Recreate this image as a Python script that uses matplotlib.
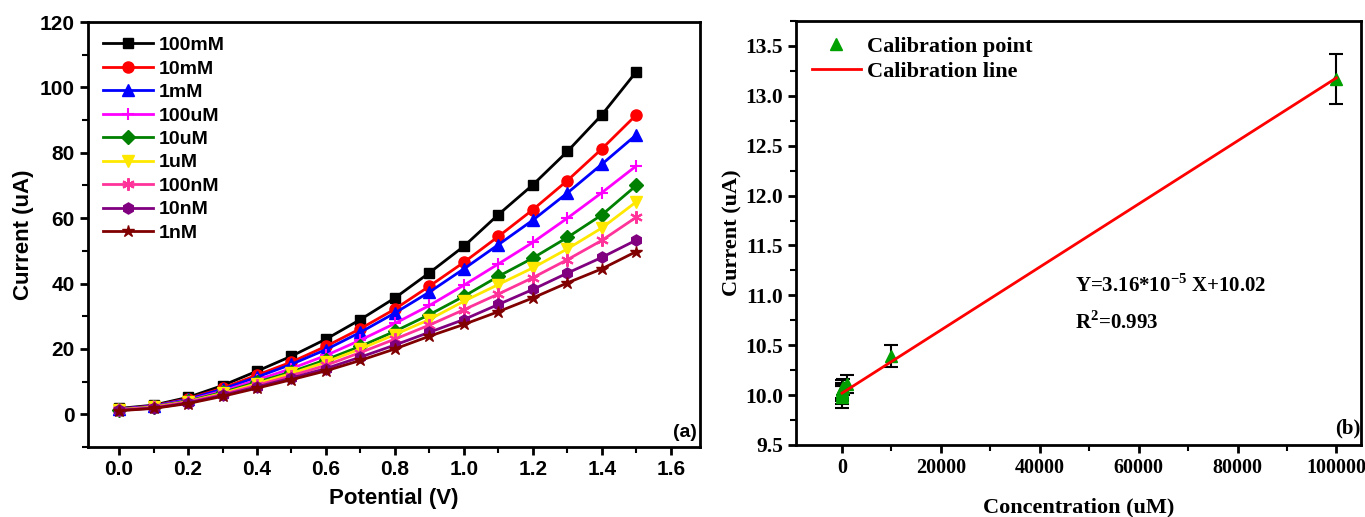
import numpy as np
import matplotlib.pyplot as plt
from matplotlib.ticker import MultipleLocator

plt.rcParams["mathtext.fontset"] = "custom"
plt.rcParams["mathtext.rm"] = "Liberation Serif"
plt.rcParams["mathtext.bf"] = "Liberation Serif:bold"

# panel (a): I-V curves for each concentration
potential = [0.0, 0.1, 0.2, 0.3, 0.4, 0.5, 0.6, 0.7, 0.8, 0.9, 1.0, 1.1, 1.2, 1.3, 1.4, 1.5]
labels = ["100mM", "10mM", "1mM", "100uM", "10uM", "1uM", "100nM", "10nM", "1nM"]
i_100mM = [1.8, 2.8, 5.2, 8.8, 13.2, 17.8, 23.0, 29.0, 35.6, 43.3, 51.4, 61.1, 70.2, 80.4, 91.6, 104.8]
i_10mM = [1.6, 2.6, 4.8, 8.0, 12.0, 16.0, 20.8, 26.2, 32.2, 39.2, 46.5, 54.4, 62.6, 71.5, 81.2, 91.6]
i_1mM = [1.6, 2.5, 4.6, 7.7, 11.4, 15.3, 19.8, 25.1, 31.0, 37.4, 44.5, 51.9, 59.4, 67.7, 76.5, 85.5]
i_100uM = [1.5, 2.4, 4.3, 7.1, 10.5, 14.0, 18.0, 22.7, 27.8, 33.3, 39.5, 46.0, 52.6, 60.0, 67.8, 76.0]
i_10uM = [1.4, 2.3, 4.1, 6.7, 9.8, 13.0, 16.7, 20.8, 25.4, 30.5, 36.1, 42.2, 47.8, 54.1, 61.0, 70.0]
i_1uM = [1.4, 2.2, 3.9, 6.4, 9.4, 12.5, 16.0, 20.0, 24.4, 29.0, 34.6, 39.7, 44.8, 50.6, 57.0, 65.0]
i_100nM = [1.3, 2.1, 3.8, 6.1, 8.9, 11.8, 15.0, 18.9, 23.0, 27.3, 32.0, 36.8, 41.8, 47.3, 53.2, 60.3]
i_10nM = [1.2, 1.9, 3.5, 5.8, 8.4, 11.1, 14.0, 17.5, 21.2, 25.1, 29.0, 33.6, 38.2, 43.2, 48.0, 53.3]
i_1nM = [1.1, 1.8, 3.3, 5.5, 8.0, 10.6, 13.3, 16.5, 20.0, 23.9, 27.5, 31.4, 35.6, 40.2, 44.5, 49.8]
curves = [i_100mM, i_10mM, i_1mM, i_100uM, i_10uM, i_1uM, i_100nM, i_10nM, i_1nM]

colors = ["black", "#FF0000", "#0000FF", "#FF00FF", "#008000", "#FFE800", "#FF3399", "#800080", "#800000"]
markers = ["s", "o", "^", "+", "D", "v", (6, 2, 0), "h", "*"]
msizes = [7, 8, 8, 8, 7, 8, 9, 8, 9]

# panel (b): calibration
conc = [0.001, 0.01, 0.1, 1, 10, 100, 1000, 10000, 100000]
cal_current = [9.98, 10.00, 10.02, 10.04, 10.06, 10.08, 10.11, 10.39, 13.17]
cal_err = [0.11, 0.09, 0.08, 0.08, 0.09, 0.08, 0.09, 0.11, 0.25]
slope = 3.16e-5
intercept = 10.02

sans = "Liberation Sans"
serif = "Liberation Serif"

fig = plt.figure(figsize=(13.65, 5.17), dpi=100)
ax1 = fig.add_axes([0.0645, 0.1354, 0.4484, 0.822])
ax2 = fig.add_axes([0.5832, 0.1393, 0.4140, 0.8201])

# ---- left
for y, c, m, ms, lab in zip(curves, colors, markers, msizes, labels):
    ax1.plot(potential, y, color=c, marker=m, markersize=ms, lw=2,
             markeredgewidth=1.5 if m in ("+", (6, 2, 0)) else 1, label=lab)
ax1.xaxis.set_minor_locator(MultipleLocator(0.1))
ax1.yaxis.set_major_locator(MultipleLocator(20))
ax1.yaxis.set_minor_locator(MultipleLocator(10))
ax1.set_xticks(np.arange(0, 1.61, 0.2))
ax1.set_xticklabels(["%.1f" % v for v in np.arange(0, 1.61, 0.2)])
ax1.set_xlim(-0.09, 1.685)
ax1.set_ylim(-10, 120)
ax1.set_xlabel("Potential (V)", family=sans, weight="bold", fontsize=16, labelpad=6)
ax1.set_ylabel("Current (uA)", family=sans, weight="bold", fontsize=16, labelpad=4)
for lab in ax1.get_xticklabels() + ax1.get_yticklabels():
    lab.set_family(sans)
    lab.set_weight("bold")
    lab.set_fontsize(15)
ax1.text(0.995, 0.015, "(a)", transform=ax1.transAxes, ha="right", va="bottom",
         family=sans, weight="bold", fontsize=14)
ax1.legend(loc="upper left", frameon=False, prop={"family": sans, "weight": "bold", "size": 14},
           handlelength=2.6, labelspacing=0.3, handletextpad=0.3, borderaxespad=0.35)

# ---- right
ax2.errorbar(conc, cal_current, yerr=cal_err, fmt="none", ecolor="black", elinewidth=1.5,
             capsize=5, capthick=1.5, zorder=2)
ax2.plot(conc, cal_current, ls="none", marker="^", color="#00A000", markersize=8,
         label="Calibration point", zorder=3)
line_x = np.array([0, conc[-1]])
ax2.plot(line_x, slope * line_x + intercept, color="#FF0000", lw=2, label="Calibration line", zorder=4)
ax2.set_xlim(-9300, 105000)
ax2.set_ylim(9.5, 13.75)
ax2.xaxis.set_major_locator(MultipleLocator(20000))
ax2.xaxis.set_minor_locator(MultipleLocator(10000))
ax2.yaxis.set_major_locator(MultipleLocator(0.5))
ax2.yaxis.set_minor_locator(MultipleLocator(0.25))
ax2.set_xlabel("Concentration (uM)", family=serif, weight="bold", fontsize=16, labelpad=14)
ax2.set_ylabel("Current (uA)", family=serif, weight="bold", fontsize=16, labelpad=2)
for lab in ax2.get_yticklabels():
    lab.set_family(serif)
    lab.set_weight("bold")
    lab.set_fontsize(15.5)
for lab in ax2.get_xticklabels():
    lab.set_family(serif)
    lab.set_weight("bold")
    lab.set_fontsize(14.5)
ax2.text(0.998, 0.015, "(b)", transform=ax2.transAxes, ha="right", va="bottom",
         family=serif, weight="bold", fontsize=15)
ax2.text(0.493, 0.375, "Y=3.16*10$^{\\mathbf{-5}}$ X+10.02", transform=ax2.transAxes,
         family=serif, weight="bold", fontsize=15, va="center")
ax2.text(0.493, 0.29, "R$^{\\mathbf{2}}$=0.993", transform=ax2.transAxes,
         family=serif, weight="bold", fontsize=15, va="center")
ax2.legend(loc="upper left", frameon=False, prop={"family": serif, "weight": "bold", "size": 16},
           handlelength=2.2, labelspacing=0.2, handletextpad=0.3, borderaxespad=0.3)

for ax in (ax1, ax2):
    for s in ax.spines.values():
        s.set_linewidth(2)
    ax.tick_params(which="major", direction="out", length=6, width=2)
    ax.tick_params(which="minor", direction="out", length=4, width=1.5)

fig.savefig("out.png", dpi=100)
